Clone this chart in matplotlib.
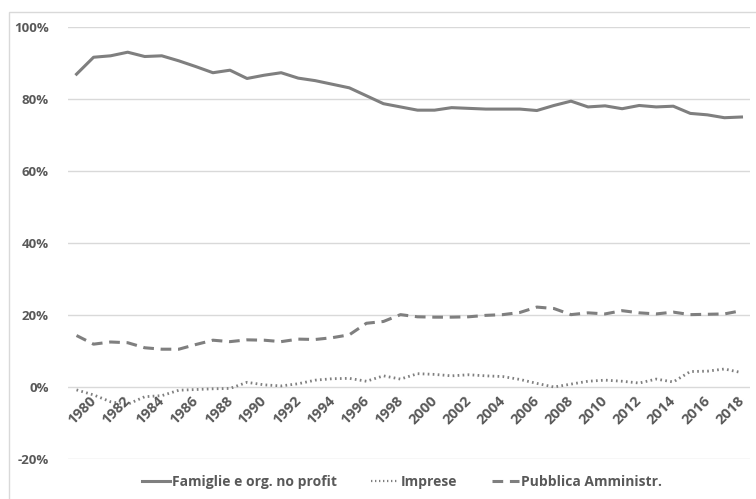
"""Quote per settore istituzionale, 1980-2019."""
import numpy as np
import matplotlib.pyplot as plt
from matplotlib.lines import Line2D
from matplotlib.patches import Rectangle

plt.rcParams['font.family'] = ['Open Sans', 'DejaVu Sans']

anni = list(range(1980, 2020))

famiglie = [86.9, 91.6, 92.0, 93.0, 91.8, 92.0, 90.6, 89.0, 87.3, 88.0,
            85.7, 86.6, 87.3, 85.8, 85.1, 84.1, 83.1, 80.9, 78.7, 77.8,
            76.9, 76.9, 77.6, 77.4, 77.2, 77.2, 77.2, 76.8, 78.2, 79.4,
            77.8, 78.1, 77.3, 78.2, 77.8, 78.0, 76.0, 75.6, 74.8, 75.0]

imprese = [-0.8, -2.2, -4.1, -4.8, -2.7, -2.4, -0.9, -0.7, -0.5, -0.4,
           1.3, 0.6, 0.3, 0.9, 1.9, 2.3, 2.4, 1.6, 3.1, 2.2,
           3.7, 3.5, 3.1, 3.4, 3.1, 2.9, 2.1, 1.0, 0.0, 0.8,
           1.6, 1.9, 1.6, 1.1, 2.2, 1.4, 4.3, 4.4, 5.0, 4.0]

pubblica = [14.3, 11.9, 12.5, 12.3, 10.9, 10.5, 10.5, 11.8, 13.0, 12.6,
            13.1, 13.0, 12.6, 13.3, 13.2, 13.7, 14.5, 17.7, 18.2, 20.1,
            19.5, 19.4, 19.4, 19.5, 19.9, 20.1, 20.7, 22.2, 21.8, 20.1,
            20.6, 20.3, 21.2, 20.6, 20.3, 20.8, 20.1, 20.2, 20.3, 21.2]

etichette = ['Famiglie e org. no profit', 'Imprese', 'Pubblica Amministr.']
y_ticks = [-20, 0, 20, 40, 60, 80, 100]

GRIGIO = '#7f7f7f'
TESTO = '#595959'
W, H = 756, 499

fig = plt.figure(figsize=(W / 100, H / 100), dpi=100)
fig.patches.append(Rectangle((9 / W, -0.1), 1.2, 1 - 12 / H + 0.1,
                             transform=fig.transFigure, fill=False,
                             edgecolor='#d9d9d9', linewidth=1))

ax = fig.add_axes([68 / W, 1 - 459 / H, (750 - 68) / W, (459 - 27) / H])
x = np.arange(len(anni))
ax.plot(x, famiglie, color=GRIGIO, lw=2.2, solid_joinstyle='round')
ax.plot(x, imprese, color=GRIGIO, lw=2.0, linestyle=(0, (0.6, 1.2)))
ax.plot(x, pubblica, color=GRIGIO, lw=2.2, linestyle=(0, (3.5, 2.2)))

ax.set_xlim(-0.5, len(anni) - 0.5)
ax.set_ylim(-20, 100)
ax.set_yticks(y_ticks)
ax.set_yticklabels([f'{v}%' for v in y_ticks], fontsize=9.5,
                   fontweight='bold', color=TESTO)
ax.tick_params(axis='y', length=0, pad=14)
ax.set_xticks([])
ax.grid(axis='y', color='#d9d9d9', lw=1)
ax.set_axisbelow(True)
for s in ax.spines.values():
    s.set_visible(False)

# etichette degli anni appoggiate sull'asse dello zero
for i, a in enumerate(anni):
    if a % 2 == 0:
        ax.annotate(str(a), xy=(i, 0), xytext=(9, -5),
                    textcoords='offset points', rotation=45,
                    rotation_mode='anchor', ha='right', va='top',
                    fontsize=10.5, fontweight='bold', color=TESTO)

handles = [Line2D([], [], color=GRIGIO, lw=2.2),
           Line2D([], [], color=GRIGIO, lw=1.6, linestyle=(0, (0.6, 1.2))),
           Line2D([], [], color=GRIGIO, lw=2.2, linestyle=(0, (3.5, 2.2)))]
fig.legend(handles, etichette, loc='center',
           bbox_to_anchor=(402 / W, 1 - 482 / H),
           ncol=3, frameon=False, handlelength=2.0, handletextpad=0.1,
           columnspacing=2.5, prop={'size': 10, 'weight': 'bold'},
           labelcolor=TESTO)

fig.savefig('out.png', dpi=100)
